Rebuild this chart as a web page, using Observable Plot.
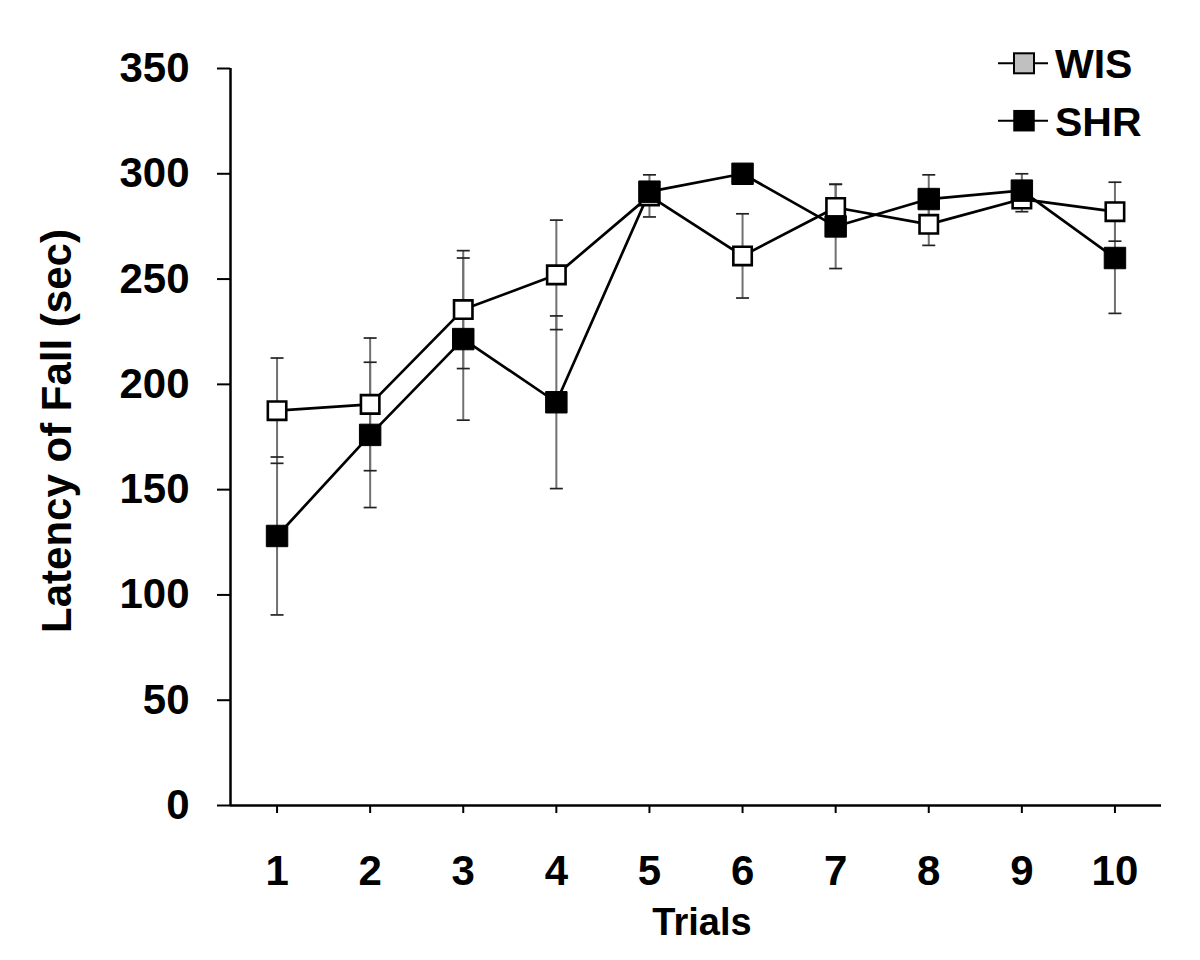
<!DOCTYPE html>
<html>
<head>
<meta charset="utf-8">
<script src="https://cdn.jsdelivr.net/npm/d3@7"></script>
<script src="https://cdn.jsdelivr.net/npm/@observablehq/plot@0.6"></script>
<style>
  html, body { margin: 0; padding: 0; background: #fff; }
  #wrap { position: relative; width: 1200px; height: 960px; }
  #legend { position: absolute; left: 0; top: 0; pointer-events: none; }
</style>
</head>
<body>
<div id="wrap"><div id="chart"></div></div>
<script>
// ---- data ----
const trials = [1, 2, 3, 4, 5, 6, 7, 8, 9, 10];
const seriesNames = ["WIS", "SHR"];
const wisMean = [187.5, 190.5, 235.5, 252, 289.5, 261, 284, 276, 288, 282];
const wisErr  = [25, 31.5, 28, 26, 10, 20, 11, 10, 6, 14];
const shrMean = [128, 176, 221.5, 191.5, 291.5, 300, 275, 288, 292, 260];
const shrErr  = [37.5, 34.5, 38.5, 41, 4, 4, 20, 11.5, 8, 26.3];
const yTicks  = [0, 50, 100, 150, 200, 250, 300, 350];
const xLabel = "Trials";
const yLabel = "Latency of Fall (sec)";

const rows = (mean, err, name) => trials.map((t, i) => ({
  trial: t, series: name, mean: mean[i], lo: mean[i] - err[i], hi: mean[i] + err[i]
}));
const wis = rows(wisMean, wisErr, seriesNames[0]);
const shr = rows(shrMean, shrErr, seriesNames[1]);
const all = wis.concat(shr);

const capSymbol = { draw(ctx) { ctx.moveTo(-6.5, 0); ctx.lineTo(6.5, 0); } };
const FONT = '"Liberation Sans", Arial, Helvetica, sans-serif';

const chart = Plot.plot({
  width: 1200, height: 960,
  marginLeft: 230, marginRight: 39, marginTop: 68, marginBottom: 155,
  style: { fontFamily: FONT, background: "white", color: "black" },
  x: { domain: [0.5, 10.5] },
  y: { domain: [0, 350] },
  marks: [
    Plot.axisY({ ticks: yTicks, tickSize: 13, tickPadding: 28, fontSize: 42, fontWeight: "bold", strokeWidth: 2, label: null }),
    Plot.axisX({ ticks: trials, tickSize: 8, tickPadding: 42, fontSize: 42, fontWeight: "bold", strokeWidth: 2, label: null, tickFormat: d => String(d) }),
    Plot.ruleY([0], { strokeWidth: 2.5 }),
    Plot.ruleX([0.5], { strokeWidth: 2.5 }),
    Plot.ruleX(all, { x: "trial", y1: "lo", y2: "hi", stroke: "#707070", strokeWidth: 2 }),
    Plot.dot(all, { x: "trial", y: "lo", symbol: capSymbol, stroke: "#222", strokeWidth: 1.7, fill: "none" }),
    Plot.dot(all, { x: "trial", y: "hi", symbol: capSymbol, stroke: "#222", strokeWidth: 1.7, fill: "none" }),
    Plot.line(wis, { x: "trial", y: "mean", stroke: "black", strokeWidth: 2.7 }),
    Plot.line(shr, { x: "trial", y: "mean", stroke: "black", strokeWidth: 2.7 }),
    Plot.dot(wis, { x: "trial", y: "mean", symbol: "square", r: 10.4, fill: "white", stroke: "black", strokeWidth: 2.6 }),
    Plot.dot(shr, { x: "trial", y: "mean", symbol: "square", r: 12.1, fill: "black", stroke: "black", strokeWidth: 1 }),
    Plot.text([xLabel], { text: d => d, frameAnchor: "bottom", dx: 6, dy: 129, fontSize: 38, fontWeight: "bold" }),
    Plot.text([yLabel], { text: d => d, frameAnchor: "left", textAnchor: "middle", rotate: -90, dx: -173, dy: -6, fontSize: 42, fontWeight: "bold" })
  ]
});
document.getElementById("chart").appendChild(chart);

// ---- legend (top right) ----
const ns = "http://www.w3.org/2000/svg";
const leg = document.createElementNS(ns, "svg");
leg.setAttribute("id", "legend");
leg.setAttribute("width", "1200");
leg.setAttribute("height", "170");
const legFills = ["#c0c0c0", "black"];
seriesNames.forEach((name, i) => {
  const cy = 63.3 + i * 57.4;
  const ln = document.createElementNS(ns, "line");
  ln.setAttribute("x1", 998); ln.setAttribute("x2", 1048);
  ln.setAttribute("y1", cy); ln.setAttribute("y2", cy);
  ln.setAttribute("stroke", "black"); ln.setAttribute("stroke-width", 2);
  leg.appendChild(ln);
  const sq = document.createElementNS(ns, "rect");
  sq.setAttribute("x", 1014); sq.setAttribute("y", cy - 10);
  sq.setAttribute("width", 20); sq.setAttribute("height", 20);
  sq.setAttribute("fill", legFills[i]); sq.setAttribute("stroke", "black");
  sq.setAttribute("stroke-width", i === 0 ? 2 : 1.5);
  leg.appendChild(sq);
  const tx = document.createElementNS(ns, "text");
  tx.setAttribute("x", 1055); tx.setAttribute("y", cy + 15);
  tx.setAttribute("font-family", FONT);
  tx.setAttribute("font-size", 41);
  tx.setAttribute("font-weight", "bold");
  tx.setAttribute("fill", "black");
  tx.textContent = name;
  leg.appendChild(tx);
});
document.getElementById("wrap").appendChild(leg);
</script>
</body>
</html>
